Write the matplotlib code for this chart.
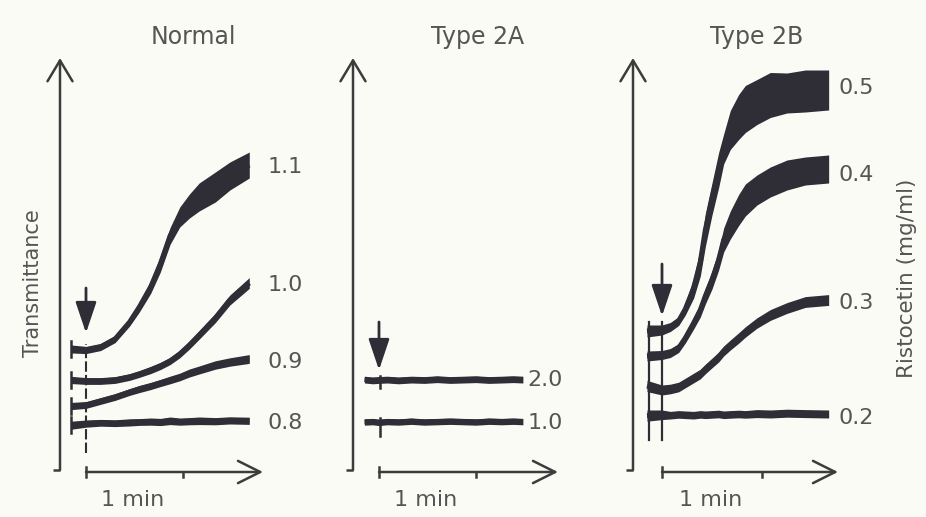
import numpy as np
import matplotlib
matplotlib.use("Agg")
import matplotlib.pyplot as plt

# ---------------- data (time in s after ristocetin, transmittance in a.u.) ----
t_norm = [-9, 0, 9, 18, 27, 33, 40, 46, 52, 58, 64, 70, 80, 89, 101]
n08 = [11.2, 11.6, 11.8, 11.7, 11.9, 12.0, 12.1, 12.0, 12.3, 12.1, 12.2, 12.3, 12.2, 12.4, 12.3]
n09 = [16.0, 16.25, 17.25, 18.25, 19.5, 20.25, 21.0, 21.75, 22.5, 23.25, 24.25, 25.0, 26.25, 27.0, 27.75]
n10 = [22.5, 22.25, 22.25, 22.5, 23.25, 24.0, 25.0, 26.0, 27.25, 29.0, 31.25, 33.75, 38.0, 42.5, 46.75]
n11 = [30.25, 30.0, 30.75, 32.75, 37.0, 40.75, 45.75, 51.5, 58.5, 63.25, 66.0, 68.25, 70.75, 73.5, 76.25]
# noise band (peak-to-peak) of each trace
nw08 = [2.0, 1.8, 1.7, 1.7, 1.8, 1.7, 1.8, 1.8, 1.9, 1.8, 1.8, 1.9, 1.8, 1.8, 1.8]
nw09 = [1.8, 1.7, 1.7, 1.7, 1.7, 1.8, 1.8, 1.8, 1.9, 1.9, 2.0, 2.0, 2.1, 2.1, 2.2]
nw10 = [1.8, 1.7, 1.7, 1.7, 1.7, 1.7, 1.8, 1.8, 1.8, 1.9, 2.0, 2.1, 2.3, 2.5, 2.7]
nw11 = [2.0, 1.8, 1.8, 1.8, 2.0, 2.5, 3.2, 4.0, 4.2, 5.0, 6.0, 7.0, 7.5, 7.0, 6.5]
norm_labels = ["0.8", "0.9", "1.0", "1.1"]
norm_label_y = [11.75, 27.0, 46.25, 75.75]

t_2a = [-9, -4, 0, 5, 12, 20, 28, 36, 44, 52, 60, 68, 76, 83, 89]
a10 = [12.0, 12.1, 11.9, 12.1, 12.0, 12.2, 12.0, 12.1, 12.2, 12.1, 12.0, 12.2, 12.1, 12.2, 12.1]
a20 = [22.6, 22.4, 22.5, 22.6, 22.4, 22.6, 22.5, 22.7, 22.5, 22.6, 22.7, 22.5, 22.6, 22.7, 22.6]
aw10 = [1.6] * 15
aw20 = [1.7] * 15
a_labels = ["1.0", "2.0"]
a_label_y = [11.75, 22.5]
a_spike_t = 0.6
a_spike_lo = [8.5, 20.5]
a_spike_hi = [13.0, 23.5]

t_2b = [-9, 0, 5, 10, 14, 19, 23, 26, 30, 34, 37, 41, 46, 50, 57, 65, 75, 86, 100]
b02 = [13.6, 13.8, 13.7, 13.9, 13.8, 13.7, 13.9, 13.8, 13.9, 14.0, 13.8, 13.9, 14.0, 13.9, 14.1, 14.0, 14.2, 14.1, 14.0]
b03 = [21.0, 20.0, 20.25, 20.75, 21.75, 23.0, 24.0, 25.25, 26.75, 28.25, 29.75, 31.25, 33.0, 34.5, 36.75, 38.75, 40.5, 42.0, 42.5]
b04 = [28.5, 28.75, 29.25, 30.5, 33.0, 36.75, 40.0, 43.5, 47.5, 52.5, 57.5, 61.25, 65.0, 67.5, 70.0, 72.0, 73.75, 74.75, 75.25]
b05 = [34.75, 35.0, 35.75, 37.25, 40.25, 45.5, 52.0, 60.0, 67.75, 75.0, 80.25, 85.0, 88.25, 90.25, 92.0, 93.75, 94.25, 94.75, 95.0]
bw02 = [2.8, 2.4, 1.9, 1.9, 1.9, 1.9, 1.9, 1.9, 1.9, 1.9, 1.9, 1.9, 1.9, 1.9, 2.0, 2.0, 2.0, 2.0, 2.0]
bw03 = [2.8, 2.5, 2.4, 2.4, 2.4, 2.4, 2.4, 2.4, 2.4, 2.5, 2.5, 2.5, 2.6, 2.6, 2.6, 2.7, 2.7, 2.7, 2.7]
bw04 = [2.5, 2.25, 2.25, 2.25, 2.5, 3.0, 3.5, 4.0, 4.5, 5.0, 6.0, 7.0, 7.75, 8.0, 7.5, 7.5, 7.5, 7.0, 7.0]
bw05 = [3.0, 2.5, 2.25, 2.25, 3.0, 5.0, 7.0, 8.25, 8.0, 8.75, 7.5, 9.75, 11.25, 11.75, 11.25, 11.25, 10.0, 10.5, 10.0]
b_labels = ["0.2", "0.3", "0.4", "0.5"]
b_label_y = [13.0, 41.75, 73.75, 95.5]

titles = ["Normal", "Type 2A", "Type 2B"]
scale_ticks = [0, 60]            # 1 min scale bar
arrow_top = [45.5, 37.0, 51.5]   # ristocetin addition arrows
arrow_tip = [34.25, 25.0, 38.5]

# ---------------- style ----------------
W, H = 926, 517
BG = "#fbfbf6"
LINE = "#2f2d35"
AXC = "#3c3c3c"
TXT = "#555555"
plt.rcParams["font.family"] = ["DejaVu Sans"]

fig = plt.figure(figsize=(W / 100, H / 100), dpi=100, facecolor=BG)

# panel geometry in pixels: (y-axis x, x of t=0, px per minute)
panels_px = [(60, 86, 97.0), (353, 379, 97.0), (633, 662, 100.0)]
TOP, BOT, AXW = 58, 470, 240
YMAX = 103.0

axes = []
for (left, x0, ppm) in panels_px:
    ax = fig.add_axes([left / W, 1 - BOT / H, AXW / W, (BOT - TOP) / H])
    spp = 60.0 / ppm
    ax.set_xlim((left - x0) * spp, (left + AXW - x0) * spp)
    ax.set_ylim(0, YMAX)
    ax.axis("off")
    ax.patch.set_alpha(0)
    axes.append(ax)


def trace(ax, t, c, w):
    t = np.asarray(t, float)
    c = np.asarray(c, float)
    w = np.asarray(w, float)
    ax.fill_between(t, c - w / 2, c + w / 2, color=LINE, lw=0, clip_on=False)
    ax.plot(t, c, color=LINE, lw=3.6, solid_capstyle="butt",
            solid_joinstyle="round", clip_on=False)


def frame(ax, t_tip, i, title_x):
    # y axis with open arrow head
    ax.annotate("", xy=(0, 1), xytext=(0, 0), xycoords="axes fraction",
                arrowprops=dict(arrowstyle="->,head_length=0.75,head_width=0.45",
                                lw=1.8, color=AXC, mutation_scale=20,
                                shrinkA=0, shrinkB=0))
    ax.plot([-0.03, 0], [0, 0], transform=ax.transAxes, color=AXC, lw=1.8,
            clip_on=False, solid_capstyle="butt")
    # time scale bar
    vbar = -0.5
    ax.annotate("", xy=(t_tip, vbar), xytext=(scale_ticks[0], vbar),
                xycoords="data", annotation_clip=False,
                arrowprops=dict(arrowstyle="->,head_length=0.8,head_width=0.4",
                                lw=1.8, color=AXC, mutation_scale=20,
                                shrinkA=0, shrinkB=0))
    ax.plot([scale_ticks[0]] * 2, [vbar + 1.3, vbar - 1.3], color=AXC, lw=1.8, clip_on=False)
    ax.plot([scale_ticks[1]] * 2, [vbar, vbar - 1.3], color=AXC, lw=1.8, clip_on=False)
    ax.text(29, vbar - 7.0, "1 min", ha="center", va="center", fontsize=16,
            color=TXT, clip_on=False)
    # ristocetin addition arrow
    ax.annotate("", xy=(0, arrow_tip[i]), xytext=(0, arrow_top[i]),
                xycoords="data", annotation_clip=False,
                arrowprops=dict(arrowstyle="-|>,head_length=0.95,head_width=0.32",
                                lw=2.0, color=LINE, mutation_scale=20,
                                shrinkA=0, shrinkB=0))
    fig.text(title_x / W, 1 - 37 / H, titles[i], ha="center", va="center",
             fontsize=17, color=TXT)


def labels(ax, x, ys, texts):
    for y, txt in zip(ys, texts):
        ax.text(x, y, txt, ha="left", va="center", fontsize=16, color=TXT,
                clip_on=False)


# ---- Normal ----
ax = axes[0]
frame(ax, 109.5, 0, 193)
ser = [n08, n09, n10, n11]
wid = [nw08, nw09, nw10, nw11]
for s, w in zip(ser, wid):
    trace(ax, t_norm, s, w)
    ax.plot([t_norm[0]] * 2, [s[0] - 2.0, s[0] + 2.0], color=LINE, lw=1.8, clip_on=False)
ax.plot([0, 0], [n08[0] - 7.0, n11[1] + 1.5], color=LINE, lw=1.5,
        ls=(0, (5, 1.5)), clip_on=False)
labels(ax, 112, norm_label_y, norm_labels)

# ---- Type 2A ----
ax = axes[1]
frame(ax, 110.7, 1, 478)
ser = [a10, a20]
wid = [aw10, aw20]
for s, w, lo, hi in zip(ser, wid, a_spike_lo, a_spike_hi):
    trace(ax, t_2a, s, w)
    ax.plot([a_spike_t] * 2, [lo, hi], color=LINE, lw=1.8, clip_on=False)
labels(ax, 92, a_label_y, a_labels)

# ---- Type 2B ----
ax = axes[2]
frame(ax, 105.6, 2, 757)
ser = [b02, b03, b04, b05]
wid = [bw02, bw03, bw04, bw05]
for s, w in zip(ser, wid):
    trace(ax, t_2b, s, w)
for tv in (t_2b[0] + 1, 0):
    ax.plot([tv, tv], [b02[0] - 6.0, b05[0] + 2.3], color=LINE, lw=1.6, clip_on=False)
labels(ax, 105.6, b_label_y, b_labels)

fig.text(33 / W, 1 - 283 / H, "Transmittance", rotation=90, ha="center",
         va="center", fontsize=15, color=TXT)
fig.text(907 / W, 1 - 278 / H, "Ristocetin (mg/ml)", rotation=90, ha="center",
         va="center", fontsize=15.5, color=TXT)

fig.savefig("out.png", dpi=100, facecolor=BG)
